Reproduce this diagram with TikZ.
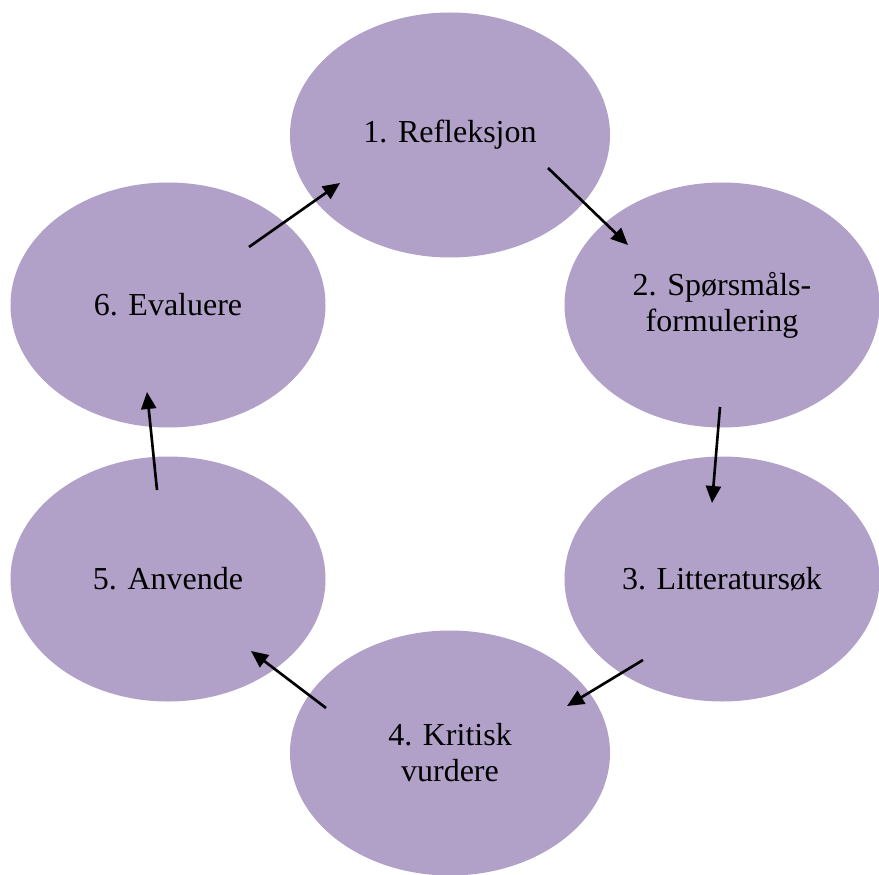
\documentclass[tikz,border=0pt]{standalone}
\usepackage{fontspec}
\setmainfont{Liberation Serif}
\usepackage{tikz}
\usetikzlibrary{positioning,arrows.meta,shapes.geometric,calc}
\definecolor{stepPurple}{HTML}{B1A0C7}
\tikzset{
  phase/.style={ellipse,fill=stepPurple,draw=none,inner sep=0pt,align=center,
    minimum width=6.3cm,minimum height=4.9cm,font=\fontsize{18.2}{20.5}\selectfont},
  arr/.style={-{Triangle[length=3.4mm,width=3mm]},line width=1.5pt}
}
\begin{document}
\begin{tikzpicture}[x=1cm,y=1cm]
\useasboundingbox (0,0) rectangle (17.58,17.48);
\node[phase, minimum width=6.4cm] (refl) at (9.0,14.78) {1. Refleksjon};
\node[phase] (sporsm) at (14.44,11.38) {2. Spørsmåls-\\formulering};
\node[phase] (litt) at (14.44,5.9) {3. Litteratursøk};
\node[phase, minimum width=6.4cm] (krit) at (9.0,2.42) {4. Kritisk\\vurdere};
\node[phase] (anv) at (3.36,5.9) {5. Anvende};
\node[phase] (eval) at (3.36,11.38) {6. Evaluere};

\coordinate (a1s) at ($(refl)+(1.96,-0.66)$);
\coordinate (a1e) at ($(sporsm)+(-1.88,1.20)$);
\coordinate (a2s) at ($(sporsm)+(-0.04,-2.04)$);
\coordinate (a2e) at ($(litt)+(-0.20,1.52)$);
\coordinate (a3s) at ($(litt)+(-1.58,-1.62)$);
\coordinate (a3e) at ($(krit)+(2.34,0.94)$);
\coordinate (a4s) at ($(krit)+(-2.48,0.90)$);
\coordinate (a4e) at ($(anv)+(1.66,-1.44)$);
\coordinate (a5s) at ($(anv)+(-0.22,1.78)$);
\coordinate (a5e) at ($(eval)+(-0.42,-1.74)$);
\coordinate (a6s) at ($(eval)+(1.62,1.16)$);
\coordinate (a6e) at ($(refl)+(-2.20,-0.96)$);

\draw[arr] (a1s) -- (a1e);
\draw[arr] (a2s) -- (a2e);
\draw[arr] (a3s) -- (a3e);
\draw[arr] (a4s) -- (a4e);
\draw[arr] (a5s) -- (a5e);
\draw[arr] (a6s) -- (a6e);
\end{tikzpicture}
\end{document}
